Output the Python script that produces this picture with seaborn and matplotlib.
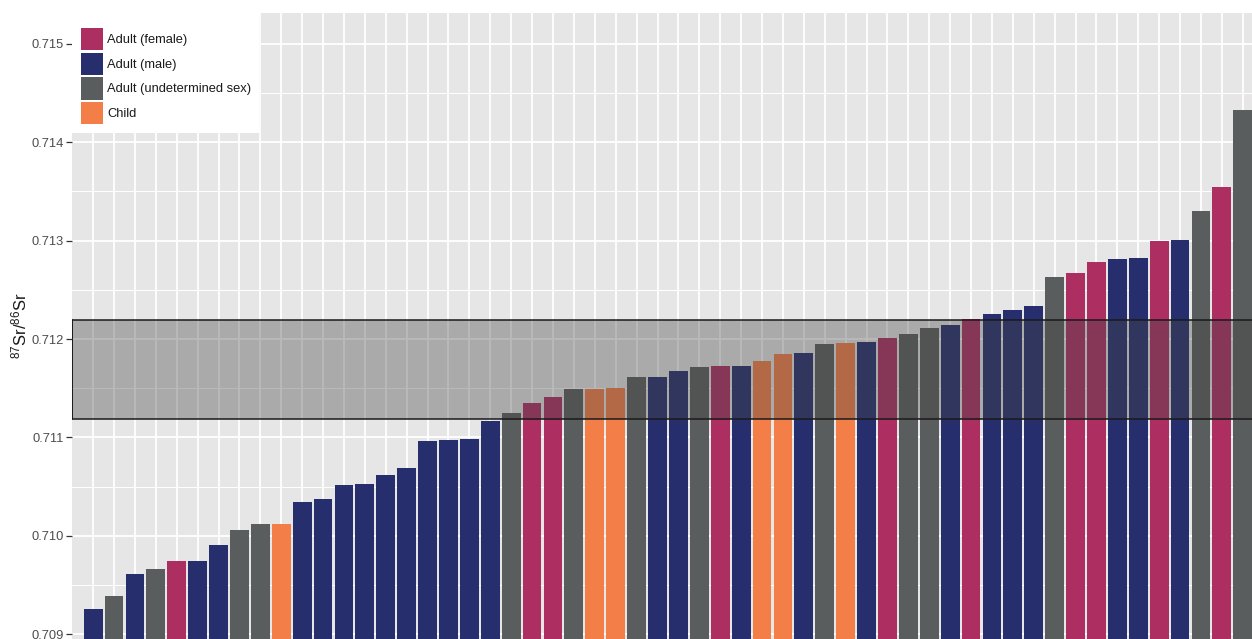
import matplotlib
matplotlib.use("Agg")
import matplotlib.pyplot as plt
from matplotlib.patches import Patch, Rectangle
from matplotlib.ticker import MultipleLocator, FormatStrFormatter
import seaborn as sns
import pandas as pd

# 87Sr/86Sr ratios per individual, sorted ascending
ratios = [
    0.70926, 0.70939, 0.70961, 0.70966, 0.70975, 0.70975, 0.70991, 0.71006,
    0.71012, 0.71012, 0.71034, 0.71038, 0.71052, 0.71053, 0.71062, 0.71069,
    0.71096, 0.71097, 0.71098, 0.71117, 0.71125, 0.71135, 0.71141, 0.71149,
    0.71149, 0.71150, 0.71161, 0.71161, 0.71168, 0.71172, 0.71173, 0.71173,
    0.71178, 0.71185, 0.71186, 0.71195, 0.71196, 0.71197, 0.71201, 0.71205,
    0.71211, 0.71214, 0.71220, 0.71225, 0.71229, 0.71234, 0.71263, 0.71267,
    0.71278, 0.71281, 0.71282, 0.71300, 0.71301, 0.71330, 0.71354, 0.71433,
]
group_codes = [
    "M", "U", "M", "U", "F", "M", "M", "U", "U", "C",
    "M", "M", "M", "M", "M", "M", "M", "M", "M", "M",
    "U", "F", "F", "U", "C", "C", "U", "M", "M", "U",
    "F", "M", "C", "C", "M", "U", "C", "M", "F", "U",
    "U", "M", "F", "M", "M", "M", "U", "F", "F", "M",
    "M", "F", "M", "U", "F", "U",
]
group_names = {
    "F": "Adult (female)",
    "M": "Adult (male)",
    "U": "Adult (undetermined sex)",
    "C": "Child",
}
group_order = ["Adult (female)", "Adult (male)", "Adult (undetermined sex)", "Child"]
group_colors = ["#AD2F62", "#262E6E", "#5A5D5E", "#F47E48"]

# local bioavailable strontium range
band_low = 0.71119
band_high = 0.71219

sample_ids = [f"{i + 1}" for i in range(len(ratios))]
df = pd.DataFrame({
    "sample": sample_ids,
    "ratio": ratios,
    "group": [group_names[c] for c in group_codes],
})

sns.set_theme(style="white")
plt.rcParams["font.family"] = ["Liberation Sans", "DejaVu Sans"]
plt.rcParams["mathtext.fontset"] = "custom"
plt.rcParams["mathtext.rm"] = "Liberation Sans"
plt.rcParams["mathtext.it"] = "Liberation Sans:italic"

W, H = 1252, 639
fig = plt.figure(figsize=(W / 100, H / 100), dpi=100)
ax_left, ax_top = 72, 13
ax = fig.add_axes([ax_left / W, 0, 1 - ax_left / W, (H - ax_top) / H])
ax.set_facecolor("#E6E6E6")

sns.barplot(
    data=df, x="sample", y="ratio", hue="group",
    order=sample_ids, hue_order=group_order, palette=group_colors,
    dodge=False, width=0.9, saturation=1, linewidth=0, legend=False, ax=ax,
)

ax.axhspan(band_low, band_high, xmin=0, xmax=1, facecolor="#454545",
           alpha=0.37, edgecolor="none", zorder=4)
ax.axhline(band_low, color="#1A1A1A", lw=1.1, zorder=5)
ax.axhline(band_high, color="#1A1A1A", lw=1.1, zorder=5)
ax.plot([-1.0, -1.0], [band_low, band_high], color="#1A1A1A", lw=1.4,
        zorder=5, clip_on=True)

ax.set_xlim(-1.01, 55.44)
ax.set_ylim(0.708954, 0.715310)

ax.yaxis.set_major_locator(MultipleLocator(0.001))
ax.yaxis.set_minor_locator(MultipleLocator(0.0005))
ax.yaxis.set_major_formatter(FormatStrFormatter("%.3f"))
ax.set_axisbelow(True)
ax.grid(True, which="major", axis="both", color="white", lw=1.3)
ax.grid(True, which="minor", axis="y", color="white", lw=0.7)

ax.tick_params(axis="y", which="major", length=4, width=0.9, color="#333333",
               labelsize=9.3, labelcolor="#4D4D4D", pad=2, left=True)
ax.tick_params(axis="y", which="minor", length=0)
ax.tick_params(axis="x", which="both", length=0, labelbottom=False)
ax.set_xlabel("")
ax.set_ylabel(r"$\mathregular{^{87}Sr/^{86}Sr}$", fontsize=12,
              color="#1A1A1A", labelpad=1.5)
for s in ax.spines.values():
    s.set_visible(False)

# white legend background inside the panel
ax.add_patch(Rectangle((0, 1 - (133 - ax_top) / (H - ax_top)),
                       (259 - ax_left) / (W - ax_left),
                       (133 - ax_top) / (H - ax_top),
                       transform=ax.transAxes, facecolor="white",
                       edgecolor="none", zorder=6))
handles = [Patch(facecolor=c, edgecolor="none", label=l)
           for l, c in zip(group_order, group_colors)]
leg = ax.legend(
    handles=handles, loc="upper left",
    bbox_to_anchor=((81 - ax_left) / (W - ax_left), 1 - (28 - ax_top) / (H - ax_top)),
    frameon=False, fontsize=9.3, borderpad=0, borderaxespad=0,
    handlelength=1.70, handleheight=2.30, labelspacing=0.16,
    handletextpad=0.33, labelcolor="#1A1A1A",
)
leg.set_zorder(7)

fig.savefig("out.png", dpi=100)
